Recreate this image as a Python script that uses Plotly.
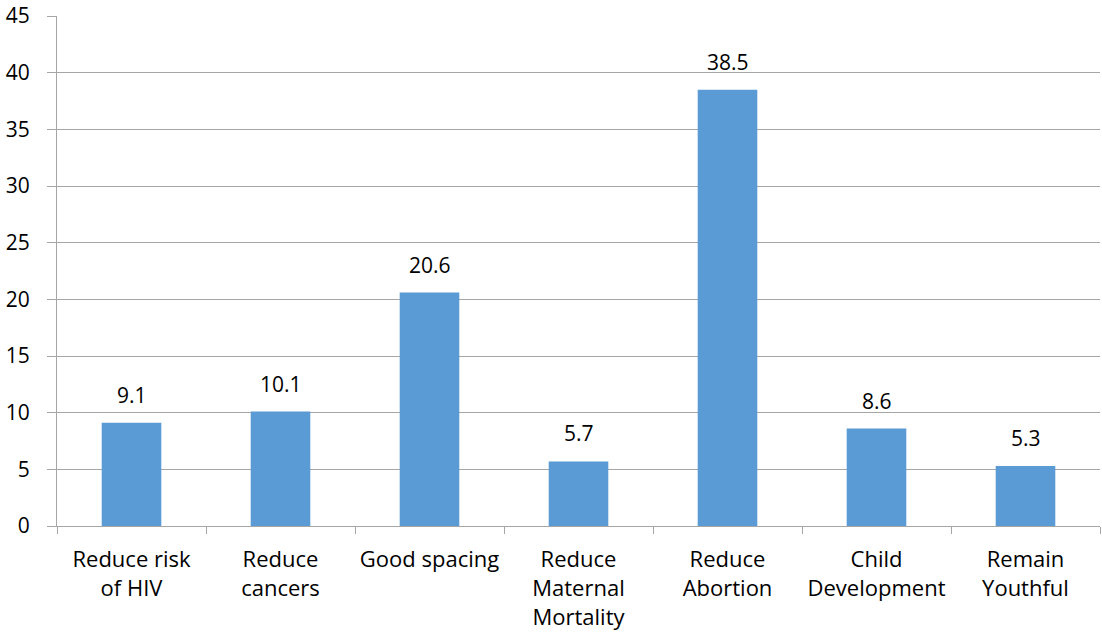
import plotly.graph_objects as go

categories = [
    "Reduce risk<br>of HIV",
    "Reduce<br>cancers",
    "Good spacing",
    "Reduce<br>Maternal<br>Mortality",
    "Reduce<br>Abortion",
    "Child<br>Development",
    "Remain<br>Youthful",
]
values = [9.1, 10.1, 20.6, 5.7, 38.5, 8.6, 5.3]
y_ticks = [0, 5, 10, 15, 20, 25, 30, 35, 40, 45]

grid = "#a6a6a6"
font = dict(family="Open Sans, Lato, sans-serif", size=21, color="#000000")
xfont = dict(family="Open Sans, Lato, sans-serif", size=22, color="#000000")

fig = go.Figure(
    go.Bar(
        x=categories,
        y=values,
        marker=dict(color="#5b9bd5", line=dict(width=0)),
        width=0.4,
        hoverinfo="x+y",
    )
)

# value labels above each bar
for cat, v in zip(categories, values):
    fig.add_annotation(
        x=cat,
        y=v,
        text=f"{v:.1f}",
        showarrow=False,
        yanchor="bottom",
        yshift=12,
        font=font,
    )

fig.update_layout(
    width=1102,
    height=641,
    margin=dict(l=57, r=2, t=16, b=115),
    paper_bgcolor="white",
    plot_bgcolor="white",
    font=font,
    showlegend=False,
)
fig.update_xaxes(
    showline=True,
    linecolor=grid,
    linewidth=1,
    ticks="outside",
    tickson="boundaries",
    ticklen=7,
    tickcolor=grid,
    tickfont=xfont,
    showgrid=False,
    ticklabelstandoff=14,
)
fig.update_yaxes(
    range=[0, 45],
    tickvals=y_ticks,
    showline=True,
    linecolor=grid,
    linewidth=1,
    ticks="outside",
    ticklen=9,
    tickcolor=grid,
    showgrid=True,
    gridcolor=grid,
    gridwidth=1,
    zeroline=False,
    tickfont=font,
    ticklabelstandoff=13,
)

fig.write_html("out.html")
